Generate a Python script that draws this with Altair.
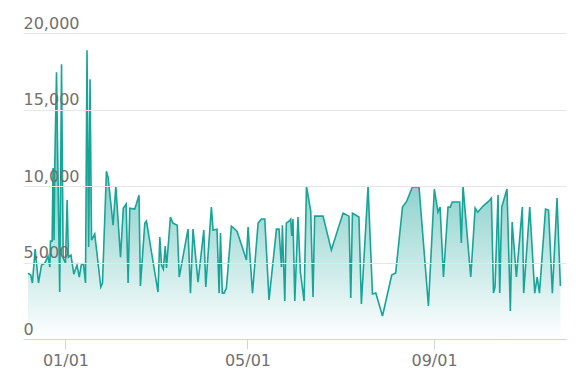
import altair as alt
import pandas as pd

# days relative to 2019-01-01 (fractional), and values
days = [-24.7, -22.9, -21.8, -20.0, -17.8, -15.8, -13.6, -11.5, -10.3, -9.9,
        -8.8, -8.2, -7.5, -7.1, -5.9, -3.8, -2.6, -1.5, 0.0, 1.1,
        2.0, 3.6, 5.5, 7.6, 9.1, 10.4, 11.9, 13.2, 14.2, 15.3,
        16.2, 17.2, 19.3, 23.3, 24.4, 27.0, 28.1, 31.4, 33.2, 36.3,
        38.1, 40.0, 41.3, 42.4, 45.7, 48.5, 49.4, 52.3, 53.4, 61.0,
        62.2, 63.3, 64.5, 65.8, 66.6, 69.2, 70.9, 73.7, 75.0, 80.8,
        82.4, 84.1, 87.4, 91.2, 92.5, 96.2, 97.3, 99.9, 101.3, 102.2,
        103.4, 104.6, 106.1, 109.4, 113.1, 119.3, 120.4, 123.3, 127.0, 129.2,
        131.4, 134.2, 139.1, 140.8, 142.4, 143.0, 144.6, 145.6, 147.4, 148.5,
        149.2, 150.0, 151.2, 153.3, 154.9, 157.3, 158.9, 161.7, 163.2, 164.3,
        169.8, 175.3, 183.0, 186.9, 188.1, 189.2, 193.5, 195.1, 199.5, 202.4,
        204.6, 209.0, 215.1, 217.7, 222.2, 225.0, 228.7, 233.1, 239.3, 243.2,
        245.6, 247.0, 249.2, 252.2, 253.7, 255.0, 259.9, 261.0, 262.1, 267.2,
        270.1, 271.8, 275.3, 279.1, 280.8, 282.2, 283.2, 285.2, 286.3, 287.6,
        291.1, 293.3, 294.5, 297.3, 301.2, 302.1, 306.1, 309.4, 311.0, 312.5,
        316.5, 318.5, 321.0, 324.1, 326.3]

values = [4310, 4180, 3660, 5880, 3660, 4830, 4960, 5420, 4700, 6400,
          6400, 11170, 6460, 11230, 17440, 3070, 17960, 5290, 4960, 9080,
          5350, 5490, 4240, 4830, 4050, 4830, 4900, 3660, 18870, 6010,
          16980, 6460, 6860, 3400, 3660, 10970, 10580, 7440, 9990, 5350,
          8550, 8820, 3660, 8550, 8490, 9400, 3460, 7570, 7700, 3070,
          6660, 4830, 4570, 6070, 4640, 7970, 7570, 7440, 4050, 7180,
          3000, 7180, 3720, 7120, 3400, 8620, 7120, 7180, 3000, 6920,
          3000, 3000, 3330, 7370, 7050, 5160, 7310, 3000, 7570, 7840,
          7840, 2550, 7180, 7180, 4700, 7440, 2480, 7570, 7700, 7840,
          6730, 7840, 2480, 7970, 4380, 2480, 9990, 8360, 2740, 8030,
          8030, 5810, 8230, 8030, 2680, 8230, 7970, 2290, 9990, 2940,
          3000, 1500, 4180, 4310, 8620, 9010, 9930, 9930, 2160, 9800,
          8290, 8620, 4050, 8620, 8620, 8950, 8950, 6270, 9990, 4050,
          8560, 8290, 8690, 9010, 9210, 3000, 3400, 9410, 3000, 8620,
          9800, 1830, 7640, 4050, 8620, 3000, 8620, 3000, 4050, 3000,
          8490, 8430, 3000, 9210, 3460]

y_ticks = [0, 5000, 10000, 15000, 20000]
x_ticks = [(2019, 1, 1), (2019, 5, 1), (2019, 9, 1)]

base = pd.Timestamp("2019-01-01")
df = pd.DataFrame({
    "date": [base + pd.to_timedelta(d, unit="D") for d in days],
    "value": values,
})

LINE = "#17a499"
FILL_TOP = "#2aaba1"
FONT = "DejaVu Sans"

x_enc = alt.X(
    "date:T",
    scale=alt.Scale(domain=[alt.DateTime(year=2018, month=12, date=4),
                            alt.DateTime(year=2019, month=11, date=27)]),
    axis=alt.Axis(
        values=[alt.DateTime(year=y, month=m, date=d) for (y, m, d) in x_ticks],
        format="%m/%d", title=None, grid=False, zindex=1,
        domainColor="#ccd6eb", tickColor="#ccd6eb", tickSize=10,
        labelPadding=3, labelFontSize=16, labelColor="#707070", labelFont=FONT,
    ),
)
y_enc = alt.Y(
    "value:Q",
    scale=alt.Scale(domain=[0, 20000], nice=False),
    axis=alt.Axis(
        values=y_ticks, format=",.0f", title=None, domain=False, ticks=False,
        zindex=1, gridColor="#e6e6e6", labelAlign="left", labelBaseline="bottom",
        labelPadding=0, labelOffset=-2, labelFontSize=16,
        labelColor="#707070", labelFont=FONT,
    ),
)

area = alt.Chart(df).mark_area(
    color=alt.Gradient(
        gradient="linear",
        stops=[alt.GradientStop(color=FILL_TOP, offset=0),
               alt.GradientStop(color="#ffffff", offset=1)],
        x1=0, x2=0, y1=0, y2=1,
    ),
).encode(x=x_enc, y=y_enc)

line = alt.Chart(df).mark_line(color=LINE, strokeWidth=1.6).encode(x=x_enc, y=y_enc)

chart = (area + line).properties(
    width=543, height=306,
    background="white",
    autosize=alt.AutoSizeParams(type="none"),
    padding={"left": 23, "top": 33, "right": 12, "bottom": 51},
).configure_view(stroke=None)

chart.save("out.html", embed_options={"renderer": "svg", "actions": False})
